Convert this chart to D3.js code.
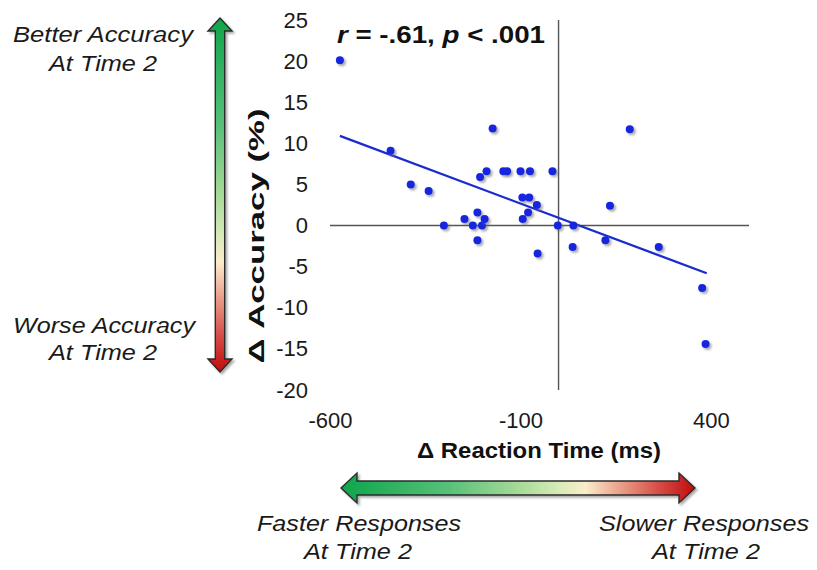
<!DOCTYPE html>
<html>
<head>
<meta charset="utf-8">
<script src="https://cdn.jsdelivr.net/npm/d3@7"></script>
<style>
  body { margin: 0; background: #fff; }
  svg { display: block; font-family: Arial, "Liberation Sans", sans-serif; }
</style>
</head>
<body>
<svg id="chart" width="817" height="570"></svg>
<script>
// change in reaction time (ms) and change in accuracy (%) per participant
const rtChange  = [-574, -441, -173, -388, -341, -206, -189, -145, -135, -100, -75, -16, 187,
                   -95, -77, -57, -80, -94, -301, -247, -213, -225, -201, -194, -213, -55,
                   -2, 39, 37, 135, 123, 263, 377, 386];
const accChange = [20.1, 9.1, 11.8, 5.0, 4.2, 5.9, 6.6, 6.6, 6.6, 6.6, 6.6, 6.6, 11.7,
                   3.4, 3.4, 2.5, 1.6, 0.8, 0, 0.8, 1.6, 0, 0, 0.8, -1.8, -3.4,
                   0, 0, -2.6, 2.4, -1.8, -2.6, -7.6, -14.4];

// fitted line end points
const fitX = [-574, 389];
const fitY = [10.9, -5.8];

const xTicks = [-600, -100, 400];
const yTicks = [-20, -15, -10, -5, 0, 5, 10, 15, 20, 25];

const svg = d3.select('#chart');

const x = d3.scaleLinear().domain([-600, 500]).range([330, 749]);
const y = d3.scaleLinear().domain([-20, 25]).range([390, 20]);

const defs = svg.append('defs');
const shadow = defs.append('filter').attr('id', 'shadow')
    .attr('x', '-50%').attr('y', '-50%').attr('width', '200%').attr('height', '200%');
shadow.append('feDropShadow')
    .attr('dx', 2).attr('dy', 2).attr('stdDeviation', 1.2)
    .attr('flood-color', '#666').attr('flood-opacity', 0.55);

// green -> cream -> red gradient shared by both arrows
const stops = [
    [0, '#0fa54b'], [0.3, '#56c078'], [0.5, '#a6da97'], [0.62, '#d9ebb9'],
    [0.69, '#fbeccb'], [0.78, '#eba690'], [0.9, '#d54b45'], [1, '#c10b0b']
];
function grad(id, x1, y1, x2, y2) {
    const g = defs.append('linearGradient').attr('id', id)
        .attr('gradientUnits', 'userSpaceOnUse')
        .attr('x1', x1).attr('y1', y1).attr('x2', x2).attr('y2', y2);
    g.selectAll('stop').data(stops).join('stop')
        .attr('offset', d => d[0]).attr('stop-color', d => d[1]);
}

// double-headed arrows
const ha = { x0: 341, x1: 695, cy: 488, hw: 7, hh: 15, hl: 16 };
grad('gradH', ha.x0, 0, ha.x1, 0);
svg.append('polygon')
    .attr('points', [
        [ha.x0, ha.cy], [ha.x0 + ha.hl, ha.cy - ha.hh], [ha.x0 + ha.hl, ha.cy - ha.hw],
        [ha.x1 - ha.hl, ha.cy - ha.hw], [ha.x1 - ha.hl, ha.cy - ha.hh], [ha.x1, ha.cy],
        [ha.x1 - ha.hl, ha.cy + ha.hh], [ha.x1 - ha.hl, ha.cy + ha.hw],
        [ha.x0 + ha.hl, ha.cy + ha.hw], [ha.x0 + ha.hl, ha.cy + ha.hh]
    ].join(' '))
    .attr('fill', 'url(#gradH)')
    .attr('stroke', '#2a2a2a').attr('stroke-width', 1.4)
    .attr('filter', 'url(#shadow)');

const va = { y0: 18, y1: 372, cx: 220, hw: 4.7, hh: 12, hl: 13 };
grad('gradV', 0, va.y0, 0, va.y1);
svg.append('polygon')
    .attr('points', [
        [va.cx, va.y0], [va.cx + va.hh, va.y0 + va.hl], [va.cx + va.hw, va.y0 + va.hl],
        [va.cx + va.hw, va.y1 - va.hl], [va.cx + va.hh, va.y1 - va.hl], [va.cx, va.y1],
        [va.cx - va.hh, va.y1 - va.hl], [va.cx - va.hw, va.y1 - va.hl],
        [va.cx - va.hw, va.y0 + va.hl], [va.cx - va.hh, va.y0 + va.hl]
    ].join(' '))
    .attr('fill', 'url(#gradV)')
    .attr('stroke', '#2a2a2a').attr('stroke-width', 1.4)
    .attr('filter', 'url(#shadow)');

// axes crossing at zero
svg.append('line')
    .attr('x1', x.range()[0]).attr('x2', x.range()[1])
    .attr('y1', y(0)).attr('y2', y(0))
    .attr('stroke', '#555').attr('stroke-width', 1.4);
svg.append('line')
    .attr('x1', x(0)).attr('x2', x(0))
    .attr('y1', y(25)).attr('y2', y(-20))
    .attr('stroke', '#555').attr('stroke-width', 1.4);

// tick labels at the plot edges, plain hyphen for negatives
const plain = d => String(d);
const yAxis = svg.append('g')
    .attr('transform', 'translate(312,0)')
    .call(d3.axisLeft(y).tickValues(yTicks).tickFormat(plain).tickSize(0).tickPadding(4));
const xAxis = svg.append('g')
    .attr('transform', 'translate(0,412)')
    .call(d3.axisBottom(x).tickValues(xTicks).tickFormat(plain).tickSize(0).tickPadding(0));
[yAxis, xAxis].forEach(a => {
    a.select('.domain').remove();
    a.selectAll('text')
        .attr('font-family', 'Arial, "Liberation Sans", sans-serif')
        .attr('font-size', 22).attr('fill', '#1a1a1a');
});

// regression line
svg.append('line')
    .attr('x1', x(fitX[0])).attr('y1', y(fitY[0]))
    .attr('x2', x(fitX[1])).attr('y2', y(fitY[1]))
    .attr('stroke', '#1a2ccf').attr('stroke-width', 2.3);

// points
svg.append('g').selectAll('circle')
    .data(rtChange.map((v, i) => [v, accChange[i]]))
    .join('circle')
    .attr('cx', d => x(d[0]))
    .attr('cy', d => y(d[1]))
    .attr('r', 4)
    .attr('fill', '#1526de')
    .attr('filter', 'url(#shadow)');

// stats annotation
const ann = svg.append('text')
    .attr('x', 337).attr('y', 43)
    .attr('font-size', 23).attr('font-weight', 'bold').attr('fill', '#111')
    .attr('textLength', 208).attr('lengthAdjust', 'spacingAndGlyphs');
ann.append('tspan').attr('font-style', 'italic').text('r');
ann.append('tspan').text(' = -.61, ');
ann.append('tspan').attr('font-style', 'italic').text('p');
ann.append('tspan').text(' < .001');

// axis titles
svg.append('text')
    .attr('x', 539).attr('y', 458)
    .attr('text-anchor', 'middle')
    .attr('font-size', 22).attr('font-weight', 'bold').attr('fill', '#111')
    .attr('textLength', 244).attr('lengthAdjust', 'spacingAndGlyphs')
    .text('Δ Reaction Time (ms)');
svg.append('text')
    .attr('transform', 'translate(264,236) rotate(-90)')
    .attr('text-anchor', 'middle')
    .attr('font-size', 22).attr('font-weight', 'bold').attr('fill', '#111')
    .attr('textLength', 255).attr('lengthAdjust', 'spacingAndGlyphs')
    .text('Δ Accuracy (%)');

// arrow captions
const captions = [
    { t: 'Better Accuracy', x: 103, y: 42, w: 180 },
    { t: 'At Time 2', x: 103, y: 71, w: 108 },
    { t: 'Worse Accuracy', x: 104, y: 333, w: 182 },
    { t: 'At Time 2', x: 103, y: 360, w: 108 },
    { t: 'Faster Responses', x: 359, y: 531, w: 204 },
    { t: 'At Time 2', x: 358, y: 559, w: 108 },
    { t: 'Slower Responses', x: 704, y: 531, w: 210 },
    { t: 'At Time 2', x: 706, y: 559, w: 108 }
];
svg.append('g').selectAll('text')
    .data(captions)
    .join('text')
    .attr('x', d => d.x).attr('y', d => d.y)
    .attr('text-anchor', 'middle')
    .attr('font-size', 22).attr('font-style', 'italic').attr('fill', '#1a1a1a')
    .attr('textLength', d => d.w).attr('lengthAdjust', 'spacingAndGlyphs')
    .text(d => d.t);
</script>
</body>
</html>
